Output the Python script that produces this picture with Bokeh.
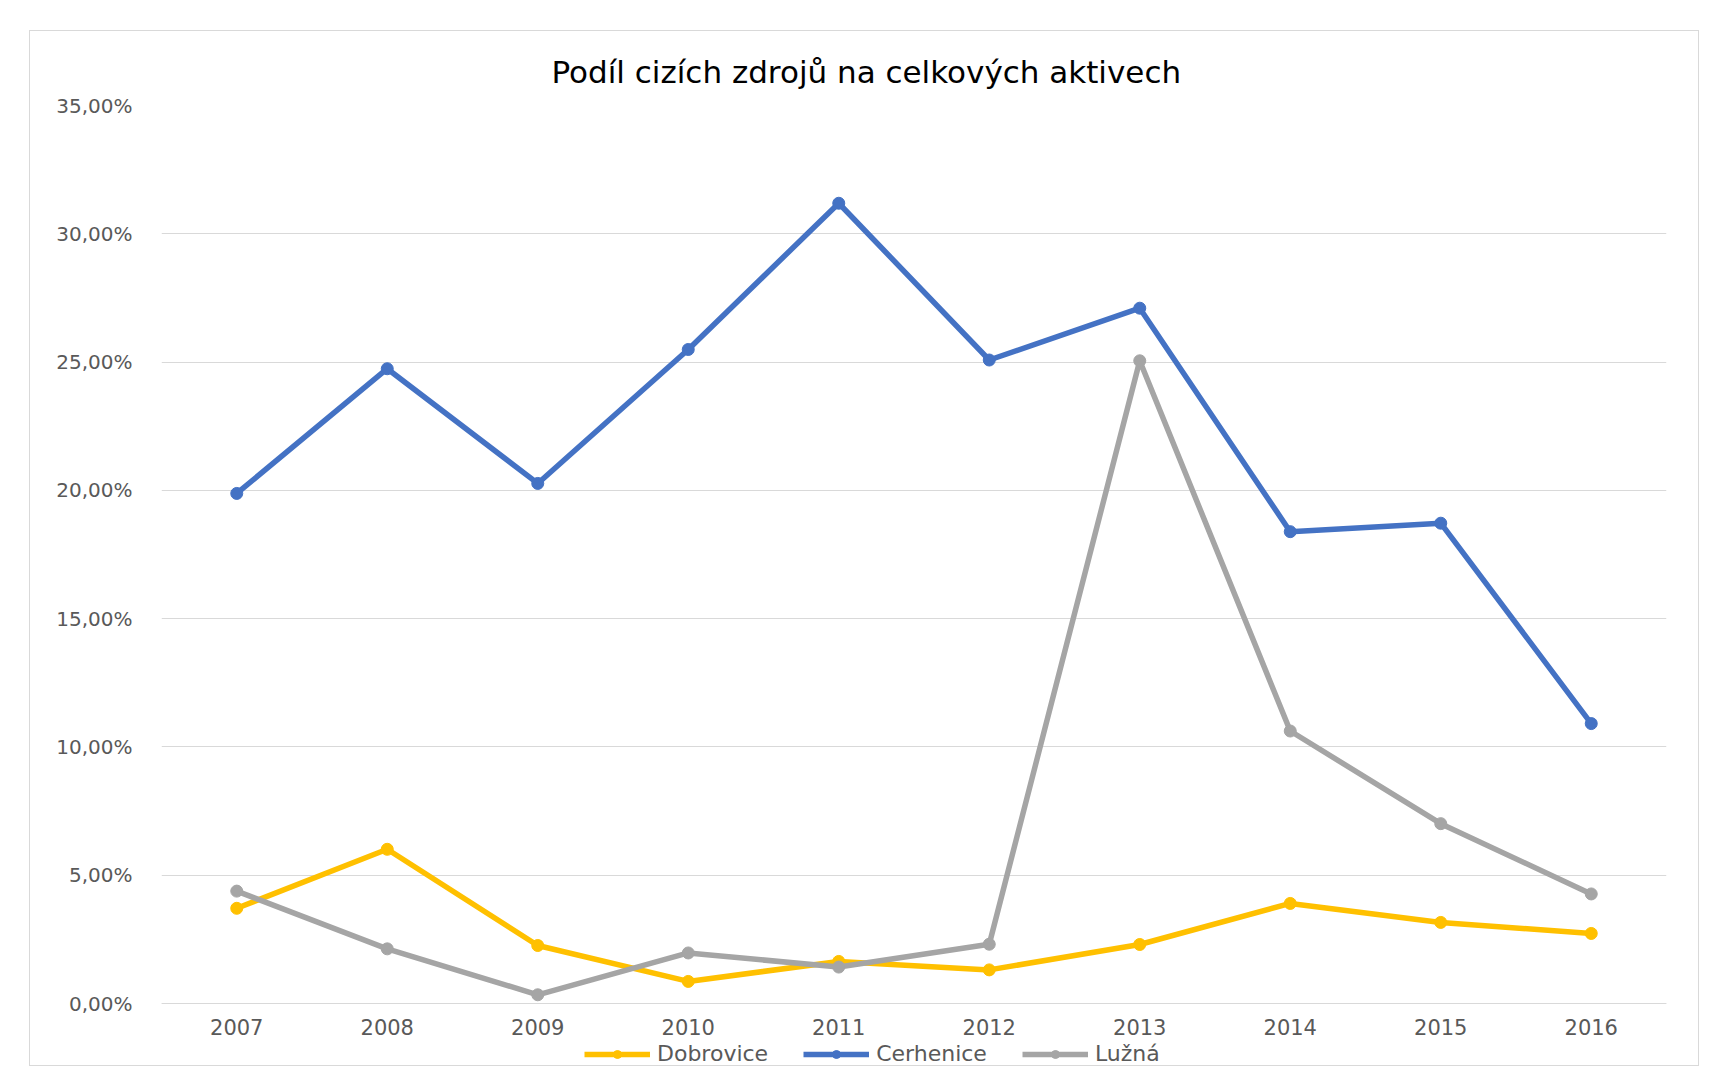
from bokeh.plotting import figure
from bokeh.models import Range1d, FactorRange, FixedTicker, Legend, LegendItem
from bokeh.embed import file_html
from bokeh.resources import INLINE

years = ["2007", "2008", "2009", "2010", "2011", "2012", "2013", "2014", "2015", "2016"]
dobrovice = [3.71, 6.01, 2.26, 0.86, 1.64, 1.31, 2.30, 3.90, 3.16, 2.73]
cerhenice = [19.88, 24.74, 20.27, 25.49, 31.19, 25.08, 27.10, 18.39, 18.72, 10.91]
luzna = [4.38, 2.13, 0.34, 1.97, 1.42, 2.31, 25.05, 10.62, 7.01, 4.27]
y_ticks = [0, 5, 10, 15, 20, 25, 30, 35]
y_tick_labels = ["0,00%", "5,00%", "10,00%", "15,00%", "20,00%", "25,00%", "30,00%", "35,00%"]
series_names = ["Dobrovice", "Cerhenice", "Lužná"]
colors = ["#FFC000", "#4472C4", "#A5A5A5"]
title_text = "Podíl cizích zdrojů na celkových aktivech"

FONT = "DejaVu Sans"

# frame: 898 px for 0..35 %, plus 64 px below the 0 line for axis labels and legend
Y_TOP = 35
Y_BOTTOM = -Y_TOP * 64 / 898

p = figure(
    width=1670, height=1036,
    x_range=FactorRange(*years, range_padding=0),
    y_range=Range1d(Y_BOTTOM, Y_TOP),
    output_backend="svg", toolbar_location=None,
    min_border_left=131, min_border_right=34, min_border_top=74, min_border_bottom=0,
)
p.margin = (30, 0, 0, 29)
p.styles = {"border": "1px solid #d9d9d9"}
p.outline_line_color = None
p.background_fill_color = "white"
p.border_fill_color = "white"

p.title.text = title_text
p.title.text_font = FONT
p.title.text_font_size = "31px"
p.title.text_font_style = "normal"
p.title.text_color = "#000000"
p.title.align = "left"
p.title.offset = 390
p.title.standoff = 32

# axes
yax = p.yaxis[0]
yax.ticker = FixedTicker(ticks=y_ticks)
yax.major_label_overrides = {t: l for t, l in zip(y_ticks, y_tick_labels)}
yax.axis_line_color = None
yax.major_tick_line_color = None
yax.minor_tick_line_color = None
yax.major_label_standoff = 23
yax.major_label_text_font = FONT
yax.major_label_text_font_size = "20px"
yax.major_label_text_color = "#595959"

xax = p.xaxis[0]
xax.fixed_location = 0
xax.axis_line_color = "#d9d9d9"
xax.major_tick_line_color = None
xax.minor_tick_line_color = None
xax.major_label_standoff = 9
xax.major_label_text_font = FONT
xax.major_label_text_font_size = "21px"
xax.major_label_text_color = "#595959"

p.xgrid.grid_line_color = None
p.ygrid.ticker = FixedTicker(ticks=y_ticks)
p.ygrid.grid_line_color = "#d9d9d9"
p.ygrid.grid_line_width = 1

items = []
for name, vals, col in zip(series_names, [dobrovice, cerhenice, luzna], colors):
    r1 = p.line(years, vals, line_color=col, line_width=5.5)
    r2 = p.scatter(years, vals, marker="circle", size=12, fill_color=col, line_color=col)
    items.append(LegendItem(label=name, renderers=[r1, r2]))

legend = Legend(items=items, orientation="horizontal", location=(423, 1))
legend.glyph_width = 66
legend.glyph_height = 20
legend.label_standoff = 7
legend.spacing = 35
legend.padding = 0
legend.margin = 0
legend.border_line_color = None
legend.background_fill_alpha = 0
legend.label_text_font = FONT
legend.label_text_font_size = "22px"
legend.label_text_color = "#595959"
p.add_layout(legend, "center")

open("out.html", "w").write(file_html(p, INLINE))
